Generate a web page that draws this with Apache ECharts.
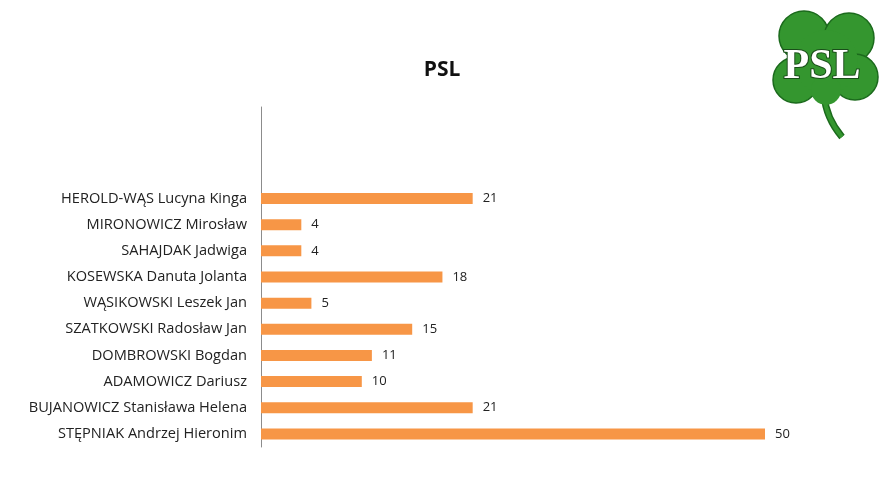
<!DOCTYPE html>
<html>
<head>
<meta charset="utf-8">
<script src="https://cdn.jsdelivr.net/npm/echarts@6/dist/echarts.min.js"></script>
<style>
  html, body { margin: 0; padding: 0; background: #fff; }
  #chart { width: 893px; height: 502px; }
</style>
</head>
<body>
<div id="chart"></div>
<script>
const names = [
  'HEROLD-WĄS Lucyna Kinga',
  'MIRONOWICZ Mirosław',
  'SAHAJDAK Jadwiga',
  'KOSEWSKA Danuta Jolanta',
  'WĄSIKOWSKI Leszek Jan',
  'SZATKOWSKI Radosław Jan',
  'DOMBROWSKI Bogdan',
  'ADAMOWICZ Dariusz',
  'BUJANOWICZ Stanisława Helena',
  'STĘPNIAK Andrzej Hieronim'
]
const votes = [21, 4, 4, 18, 5, 15, 11, 10, 21, 50]
// the excel chart left three empty rows above the names
const blankRows = ['', '', '']

const categories = blankRows.concat(names)
const values = blankRows.map(() => '-').concat(votes)

const green = '#34962f'
const greenDark = '#1b6a1c'

const chart = echarts.init(document.getElementById('chart'))
chart.setOption({
  animation: false,
  title: {
    text: 'PSL',
    left: 437,
    top: 55,
    textAlign: 'center',
    textStyle: { fontFamily: 'Open Sans', fontSize: 21, fontWeight: 'bold', color: '#111' }
  },
  grid: { left: 261, right: 128, top: 107, bottom: 55 },
  xAxis: {
    type: 'value',
    min: 0,
    max: 50,
    show: false
  },
  yAxis: {
    type: 'category',
    inverse: true,
    data: categories,
    axisLine: { lineStyle: { color: '#8c8c8c', width: 1 } },
    axisTick: { show: false },
    axisLabel: { fontFamily: 'Open Sans', fontSize: 14.6, color: '#222', margin: 14 }
  },
  series: [{
    type: 'bar',
    data: values,
    barWidth: 11,
    itemStyle: { color: '#f79646' },
    label: {
      show: true,
      position: 'right',
      distance: 10,
      fontFamily: 'Open Sans',
      fontSize: 13,
      color: '#222'
    }
  }],
  graphic: [
    // clover logo
    {
      type: 'group',
      children: [
        { type: 'bezierCurve', shape: { x1: 824, y1: 95, cpx1: 826, cpy1: 118, x2: 842, y2: 137 },
          style: { stroke: greenDark, lineWidth: 7, fill: null } },
        { type: 'bezierCurve', shape: { x1: 824, y1: 95, cpx1: 826, cpy1: 118, x2: 842, y2: 137 },
          style: { stroke: green, lineWidth: 4, fill: null } },
        { type: 'circle', shape: { cx: 804, cy: 36, r: 25 }, style: { fill: green, stroke: greenDark, lineWidth: 1.5 } },
        { type: 'circle', shape: { cx: 849, cy: 38, r: 25 }, style: { fill: green, stroke: greenDark, lineWidth: 1.5 } },
        { type: 'circle', shape: { cx: 796, cy: 80, r: 23 }, style: { fill: green, stroke: greenDark, lineWidth: 1.5 } },
        { type: 'circle', shape: { cx: 855, cy: 77, r: 23 }, style: { fill: green, stroke: greenDark, lineWidth: 1.5 } },
        { type: 'circle', shape: { cx: 826, cy: 62, r: 32 }, style: { fill: green } },
        { type: 'circle', shape: { cx: 826, cy: 90, r: 15 }, style: { fill: green } },
        {
          type: 'text',
          x: 822,
          y: 67,
          style: {
            text: 'PSL',
            x: 0,
            y: 0,
            align: 'center',
            verticalAlign: 'middle',
            font: 'bold 42px "Liberation Serif", "DejaVu Serif", serif',
            fill: '#ffffff',
            stroke: '#1a4d1a',
            lineWidth: 2
          }
        }
      ]
    }
  ]
})
</script>
</body>
</html>
